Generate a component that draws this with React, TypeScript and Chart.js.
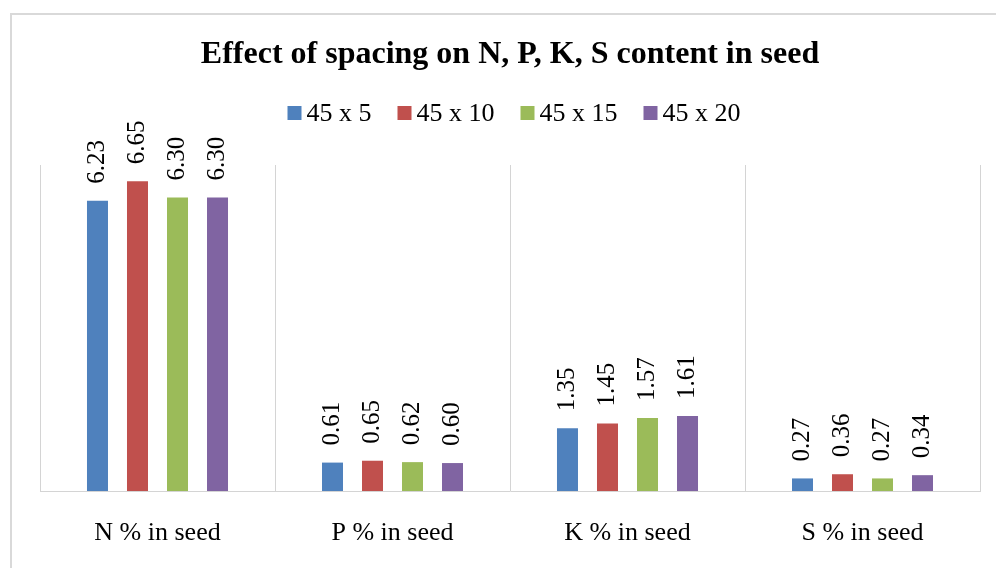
import React, { useEffect, useRef } from "react";
import { Chart, registerables } from "chart.js";

Chart.register(...registerables);

const categories = ["N % in seed", "P % in seed", "K % in seed", "S % in seed"];
const seriesNames = ["45 x 5", "45 x 10", "45 x 15", "45 x 20"];
const s45x5 = [6.23, 0.61, 1.35, 0.27];
const s45x10 = [6.65, 0.65, 1.45, 0.36];
const s45x15 = [6.3, 0.62, 1.57, 0.27];
const s45x20 = [6.3, 0.6, 1.61, 0.34];
const colors = ["#4F81BD", "#C0504D", "#9BBB59", "#8064A2"];
const yMin = 0;
const yMax = 7;
const titleText = "Effect of spacing on N, P, K, S content in seed";

const FONT = "'Liberation Serif', 'Times New Roman', serif";

const borderPlugin = {
  id: "outerBorder",
  beforeDraw(chart: any) {
    const ctx = chart.ctx;
    ctx.save();
    ctx.fillStyle = "#ffffff";
    ctx.fillRect(0, 0, chart.width, chart.height);
    ctx.strokeStyle = "#d9d9d9";
    ctx.lineWidth = 2;
    ctx.strokeRect(11, 14, chart.width + 20, chart.height + 20);
    ctx.restore();
  },
};

const legendPlugin = {
  id: "customLegend",
  afterDraw(chart: any) {
    const ctx = chart.ctx;
    const ds = chart.data.datasets;
    ctx.save();
    ctx.font = `26px ${FONT}`;
    const box = 14;
    const gapBoxText = 5;
    const gapItems = 26;
    const widths = ds.map((d: any) => ctx.measureText(d.label).width);
    let total = 0;
    widths.forEach((w: number, i: number) => {
      total += box + gapBoxText + w + (i < widths.length - 1 ? gapItems : 0);
    });
    const cx = (chart.chartArea.left + chart.chartArea.right) / 2 + 4;
    let x = cx - total / 2;
    const cy = 113;
    ds.forEach((d: any, i: number) => {
      ctx.fillStyle = d.backgroundColor;
      ctx.fillRect(x, cy - box / 2, box, box);
      x += box + gapBoxText;
      ctx.fillStyle = "#000000";
      ctx.textAlign = "left";
      ctx.textBaseline = "middle";
      ctx.fillText(d.label, x, cy + 1);
      x += widths[i] + gapItems;
    });
    ctx.restore();
  },
};

const labelPlugin = {
  id: "barLabels",
  afterDatasetsDraw(chart: any) {
    const ctx = chart.ctx;
    ctx.save();
    ctx.font = `25px ${FONT}`;
    ctx.fillStyle = "#000000";
    ctx.textAlign = "left";
    ctx.textBaseline = "middle";
    chart.data.datasets.forEach((d: any, di: number) => {
      const meta = chart.getDatasetMeta(di);
      meta.data.forEach((el: any, i: number) => {
        const v = d.data[i];
        ctx.save();
        ctx.translate(el.x, el.y - 17);
        ctx.rotate(-Math.PI / 2);
        ctx.fillText(Number(v).toFixed(2), 0, 0);
        ctx.restore();
      });
    });
    ctx.restore();
  },
};

export default function App() {
  const ref = useRef<HTMLCanvasElement | null>(null);
  useEffect(() => {
    if (!ref.current) return;
    const series = [s45x5, s45x10, s45x15, s45x20];
    const chart = new Chart(ref.current, {
      type: "bar",
      data: {
        labels: categories,
        datasets: series.map((s, i) => ({
          label: seriesNames[i],
          data: s,
          backgroundColor: colors[i],
          borderWidth: 0,
          categoryPercentage: 0.681,
          barPercentage: 0.525,
        })),
      },
      options: {
        responsive: false,
        animation: false,
        devicePixelRatio: 1,
        layout: { padding: { left: 40, right: 16, top: 0, bottom: 21 } },
        plugins: {
          legend: { display: false },
          tooltip: { enabled: false },
          title: {
            display: true,
            text: titleText,
            color: "#000000",
            font: { family: FONT, size: 32, weight: "bold" },
            padding: { top: 36, bottom: 90.6 },
          },
        },
        scales: {
          x: {
            grid: {
              display: true,
              offset: true,
              color: "#d4d4d4",
              lineWidth: 1,
              drawTicks: false,
            },
            border: { display: true, color: "#d4d4d4", width: 1 },
            ticks: {
              color: "#000000",
              font: { family: FONT, size: 26 },
              padding: 27,
            },
            afterFit: (axis: any) => {
              axis.height = 56;
            },
          },
          y: {
            display: false,
            min: yMin,
            max: yMax,
          },
        },
      },
      plugins: [borderPlugin, legendPlugin, labelPlugin],
    });
    return () => chart.destroy();
  }, []);
  return (
    <div style={{ position: "absolute", left: 0, top: 0, width: 996, height: 568 }}>
      <canvas ref={ref} width={996} height={568} style={{ display: "block" }} />
    </div>
  );
}
